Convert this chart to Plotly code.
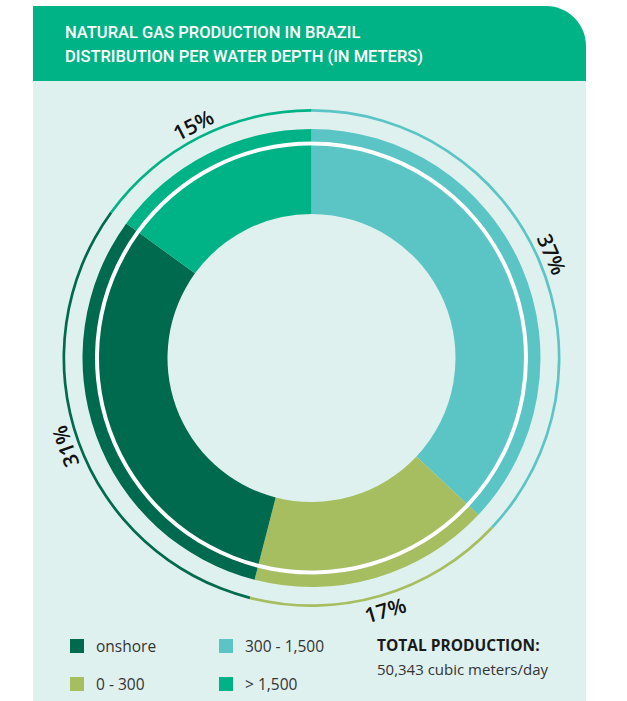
import math
import plotly.graph_objects as go

# ---- data -----------------------------------------------------------------
# segments in clockwise order starting at 12 o'clock
categories = ["300 - 1,500", "0 - 300", "onshore", "> 1,500"]
shares = [37, 17, 31, 15]  # % of natural gas production
legend_order = ["onshore", "0 - 300", "300 - 1,500", "> 1,500"]

title_lines = ["NATURAL GAS PRODUCTION IN BRAZIL",
               "DISTRIBUTION PER WATER DEPTH (IN METERS)"]
total_title = "TOTAL PRODUCTION:"
total_value = "50,343 cubic meters/day"

# ---- style ----------------------------------------------------------------
W, H = 627, 701
colors = {"300 - 1,500": "#5bc5c6", "0 - 300": "#a6be60",
          "onshore": "#006a4e", "> 1,500": "#00b386"}
HEADER = "#00b386"
PANEL = "#dff1ef"
CX, CY, R = 311.5, 358.0, 250.0  # donut centre and radial-axis extent (px)

# ring geometry in radial-axis units (== px)
rings = [  # (inner radius, outer radius)
    (144.0, 212.5),   # main donut
    (216.5, 229.0),   # outer band
    (246.3, 249.0),   # thin outline
]
GAP = (212.5, 216.5)  # white separator
LABEL_R = 262.0


def px(x):
    return x / W


def py(y):
    return 1 - y / H


# angles (degrees clockwise from top)
widths = [s * 3.6 for s in shares]
starts = [sum(widths[:i]) for i in range(len(widths))]
mids = [a + w / 2 for a, w in zip(starts, widths)]

fig = go.Figure()

# white separator ring
fig.add_trace(go.Barpolar(
    r=[GAP[1] - GAP[0]], base=[GAP[0]], theta=[180], width=[360],
    marker=dict(color="white", line=dict(width=0)),
    hoverinfo="skip", showlegend=False,
))

for inner, outer in rings:
    fig.add_trace(go.Barpolar(
        r=[outer - inner] * len(categories),
        base=[inner] * len(categories),
        theta=mids,
        width=widths,
        marker=dict(color=[colors[c] for c in categories], line=dict(width=0)),
        customdata=categories,
        hovertemplate="%{customdata}<extra></extra>",
        showlegend=False,
    ))

fig.update_layout(
    width=W, height=H,
    margin=dict(l=0, r=0, t=0, b=0),
    paper_bgcolor="white",
    polar=dict(
        domain=dict(x=[px(CX - R), px(CX + R)], y=[py(CY + R), py(CY - R)]),
        bgcolor="rgba(0,0,0,0)",
        bargap=0,
        radialaxis=dict(range=[0, R], visible=False),
        angularaxis=dict(rotation=90, direction="clockwise", visible=False),
    ),
)

# ---- panel and header -----------------------------------------------------
L, RT, TOP, HB, RAD = 33.0, 586.0, 6.0, 81.0, 40.0
k = 0.5523 * RAD
shapes = [
    dict(type="rect", xref="paper", yref="paper", layer="below",
         x0=px(L), x1=px(RT), y0=py(H), y1=py(HB),
         fillcolor=PANEL, line=dict(width=0)),
    dict(type="path", xref="paper", yref="paper", layer="below",
         path=(f"M {px(L)},{py(TOP)} L {px(RT - RAD)},{py(TOP)} "
               f"C {px(RT - RAD + k)},{py(TOP)} {px(RT)},{py(TOP + RAD - k)} {px(RT)},{py(TOP + RAD)} "
               f"L {px(RT)},{py(HB)} L {px(L)},{py(HB)} Z"),
         fillcolor=HEADER, line=dict(width=0)),
]

annotations = []
for i, line in enumerate(title_lines):
    annotations.append(dict(
        xref="paper", yref="paper", x=px(63), y=py(33 + 24 * i),
        xanchor="left", yanchor="middle", showarrow=False, text=line,
        font=dict(family="Roboto", size=16.5, color="white", weight=500),
    ))

# ---- percentage labels around the ring ------------------------------------
for cat, share, mid in zip(categories, shares, mids):
    t = math.radians(mid)
    x = CX + LABEL_R * math.sin(t)
    y = CY - LABEL_R * math.cos(t)
    ang = mid - 180 if 135 <= mid <= 225 else mid
    if ang > 180:
        ang -= 360
    annotations.append(dict(
        xref="paper", yref="paper", x=px(x), y=py(y),
        xanchor="center", yanchor="middle", showarrow=False,
        text=f"{share}%", textangle=ang,
        font=dict(family="Open Sans", size=21, color="#111111", weight=600),
    ))

# ---- legend ---------------------------------------------------------------
col_x = [70.0, 219.0]
row_y = [646.0, 684.0]
SQ = 14.0
for j, cat in enumerate(legend_order):
    cx, ry = col_x[j // 2], row_y[j % 2]
    shapes.append(dict(type="rect", xref="paper", yref="paper",
                       x0=px(cx), x1=px(cx + SQ), y0=py(ry + SQ / 2), y1=py(ry - SQ / 2),
                       fillcolor=colors[cat], line=dict(width=0)))
    annotations.append(dict(
        xref="paper", yref="paper", x=px(cx + 24), y=py(ry),
        xanchor="left", yanchor="middle", showarrow=False, text=cat,
        font=dict(family="Open Sans", size=15.5, color="#333333"),
    ))

annotations.append(dict(
    xref="paper", yref="paper", x=px(375), y=py(645),
    xanchor="left", yanchor="middle", showarrow=False, text=f"<b>{total_title}</b>",
    font=dict(family="Open Sans", size=15.5, color="#1a1a1a"),
))
annotations.append(dict(
    xref="paper", yref="paper", x=px(375), y=py(669),
    xanchor="left", yanchor="middle", showarrow=False, text=total_value,
    font=dict(family="Open Sans", size=15, color="#333333"),
))

fig.update_layout(shapes=shapes, annotations=annotations)
fig.write_html("out.html")
